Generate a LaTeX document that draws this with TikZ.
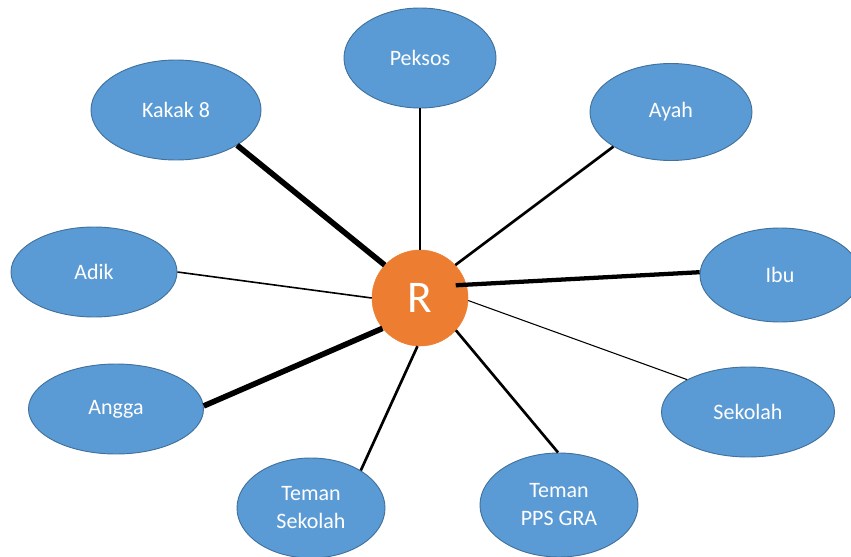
\documentclass[tikz,border=0pt]{standalone}
\usepackage{fontspec}
\setmainfont{Carlito}
\usetikzlibrary{shapes.geometric}
\definecolor{bluefill}{HTML}{5B9BD5}
\definecolor{blueline}{HTML}{41719C}
\definecolor{orangefill}{HTML}{ED7D31}
\begin{document}
\begin{tikzpicture}[x=0.75pt,y=-0.75pt,
  bub/.style={ellipse, fill=bluefill, draw=blueline, line width=0.7pt, text=white,
    font=\fontsize{16.5}{21}\selectfont, inner sep=0pt, align=center},
  hub/.style={circle, fill=orangefill, draw=orangefill, text=white,
    font=\fontsize{34}{36}\selectfont, inner sep=0pt, minimum size=72pt},
  tieA/.style={line width=0.8pt, black},
  tieB/.style={line width=1.2pt, black},
  tieC/.style={line width=2pt, black},
  tieD/.style={line width=3.2pt, black},
  tieE/.style={line width=4.2pt, black}]
\useasboundingbox (0,0) rectangle (851,557);
\clip (0,0) rectangle (851,557);
\node[bub, minimum width=114pt, minimum height=75pt] (peksos) at (420,58) {Peksos};
\node[bub, minimum width=127.5pt, minimum height=75pt] (kakak) at (176,110) {Kakak 8};
\node[bub, minimum width=121.5pt, minimum height=72.75pt] (ayah) at (671,112) {Ayah};
\node[bub, minimum width=124.5pt, minimum height=67.5pt] (adik) at (94,272) {Adik};
\node[bub, minimum width=120pt, minimum height=70.5pt] (ibu) at (780,275) {Ibu};
\node[bub, minimum width=131.25pt, minimum height=67.5pt] (angga) at (116,409) {Angga};
\node[bub, minimum width=129.75pt, minimum height=67.5pt] (sekolah) at (748,412) {Sekolah};
\node[bub, minimum width=111pt, minimum height=75pt] (temans) at (311,508) {Teman\\Sekolah};
\node[bub, minimum width=118.5pt, minimum height=78pt] (temanp) at (559,505) {Teman\\PPS GRA};
\node[hub] (r) at (420,298) {R};
\draw[tieB] (r.90) -- (peksos.270);
\draw[tieE] (r.137) -- (kakak.330);
\draw[tieC] (r.43) -- (ayah.211);
\draw[tieB] (r.180) -- (adik.0);
\draw[tieD, shorten <=-8pt] (r.16) -- (ibu.178);
\draw[tieA] (r.357) -- (sekolah.152);
\draw[tieE] (r.219) -- (angga.2);
\draw[tieC] (r.267) -- (temans.37);
\draw[tieC] (r.318) -- (temanp.91);
\end{tikzpicture}
\end{document}
